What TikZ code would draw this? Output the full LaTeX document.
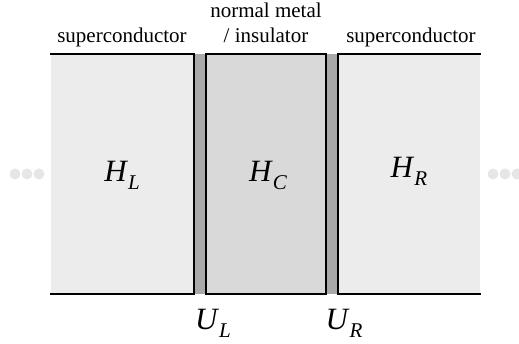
\documentclass[tikz,border=0pt]{standalone}
\usepackage{fontspec}
\setmainfont{Liberation Serif}
\definecolor{leadgray}{HTML}{ECECEC}
\definecolor{midgray}{HTML}{D9D9D9}
\definecolor{wallgray}{HTML}{A9A9A9}
\definecolor{dotgray}{HTML}{E6E6E6}
\newcommand{\hsub}[2]{\textit{#1}\raisebox{-0.25em}{\fontsize{21}{21}\selectfont\textit{#2}}}
\tikzset{
  lbl/.style={anchor=base,inner sep=0pt,font=\fontsize{21}{24}\selectfont},
  sym/.style={anchor=base,inner sep=0pt,font=\fontsize{31}{34}\selectfont},
  edge/.style={line width=2pt,line cap=rect}
}
\begin{document}
\begin{tikzpicture}[x=1pt,y=-1pt]
\useasboundingbox (0,0) rectangle (519,344);
% leads and central region
\fill[leadgray] (51,54) rectangle (194,294);
\fill[leadgray] (338,54) rectangle (480,294);
\fill[wallgray] (194,54) rectangle (338,294);
\fill[midgray] (206,54) rectangle (326,294);
\draw[edge] (51,54) -- (194,54) -- (194,294) -- (51,294);
\draw[edge] (480,54) -- (338,54) -- (338,294) -- (480,294);
\draw[edge] (206,54) rectangle (326,294);
% dots
\foreach \x in {15,27,39,493,505,517}
  \fill[dotgray] (\x,174) circle (5.5);
% labels
\node[lbl] (scL) at (122,43) {superconductor};
\node[lbl] (nm) at (266,18) {normal metal};
\node[lbl] (ins) at (266,43) {/ insulator};
\node[lbl] (scR) at (411,43) {superconductor};
\node[sym] (hL) at (122,182) {\hsub{H}{L}};
\node[sym] (hC) at (268,182) {\hsub{H}{C}};
\node[sym] (hR) at (409,178) {\hsub{H}{R}};
\node[sym] (uL) at (213,330) {\hsub{U}{L}};
\node[sym] (uR) at (344,330) {\hsub{U}{R}};
\end{tikzpicture}
\end{document}
